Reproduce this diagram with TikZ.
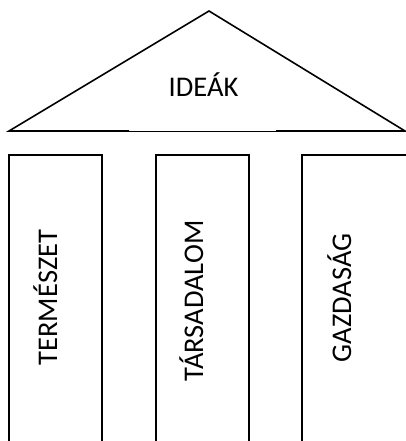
\documentclass[tikz,border=0pt]{standalone}
\usepackage{fontspec}
\setmainfont{Carlito}

\begin{document}
\begin{tikzpicture}[x=1pt,y=-1pt]
\tikzstyle{every node} = [font=\fontsize{28.5}{32}\selectfont, inner sep=0pt, anchor=base]
\tikzstyle{pillar} = [rotate=90]
\tikzstyle{edge} = [line width=1.6pt]
\useasboundingbox (0,0) rectangle (406,441);
\clip (0,0) rectangle (406,441);
\path (209,11) coordinate (apex)
		(9,131) coordinate (roofleft)
		(405,131) coordinate (roofright)
		(129,131) coordinate (gapleft)
		(276,131) coordinate (gapright)	;

	% roof
	\draw[edge, line join=miter] (gapleft) -- (roofleft) -- (apex) -- (roofright) -- (gapright);
	\draw[line width=0.8pt] (gapleft) -- (gapright);
	\path (203.5,97) node (ideak) {IDEÁK};

	% pillars
	\draw[edge] (9,450) -- (9,155) -- (102,155) -- (102,450);
	\draw[edge] (156,450) -- (156,155) -- (249,155) -- (249,450);
	\draw[edge] (302,450) -- (302,155) -- (420,155);
	\path (57,297.5) node [pillar] (termeszet) {TERMÉSZET}
		(203,301) node [pillar] (tarsadalom) {TÁRSADALOM}
		(351,298) node [pillar] (gazdasag) {GAZDASÁG};
\end{tikzpicture}
\end{document}
